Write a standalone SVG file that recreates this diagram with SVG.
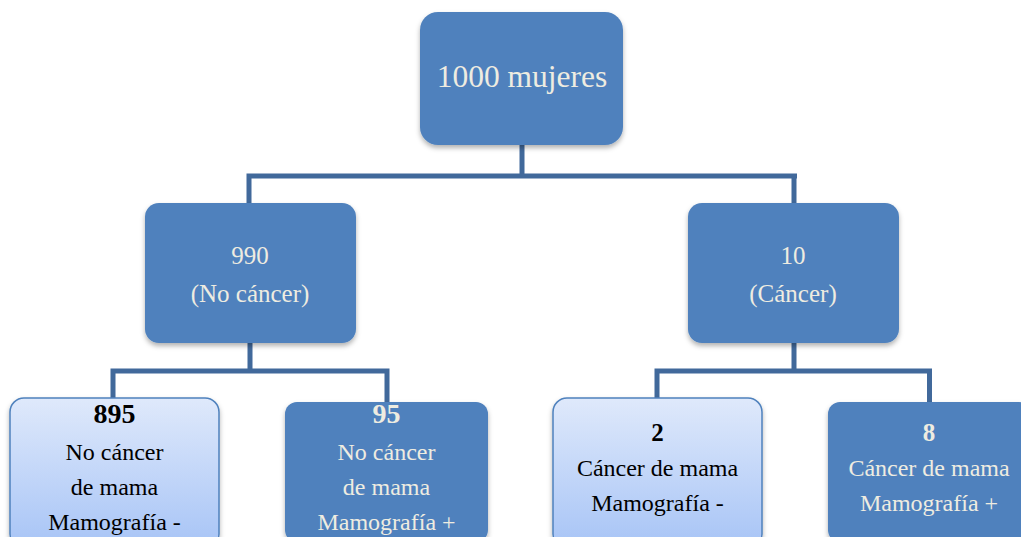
<svg xmlns="http://www.w3.org/2000/svg" width="1021" height="537" viewBox="0 0 1021 537">
<style>
.dark{fill:#4f81bd;filter:url(#sh)}
.light{fill:url(#lg);stroke:#4f81bd;stroke-width:1.5;filter:url(#sh)}
.con{fill:none;stroke:#41699b;stroke-width:5}
text{font-family:"Liberation Serif","Times New Roman",serif;text-anchor:middle}
.w{fill:#eeece1}
.k{fill:#000}
.b{font-weight:bold}
</style>
<defs>
<linearGradient id="lg" x1="0" y1="0" x2="0" y2="1">
<stop offset="0" stop-color="#dfe9fb"/>
<stop offset="1" stop-color="#a7c4f6"/>
</linearGradient>
<filter id="sh" x="-10%" y="-10%" width="120%" height="130%">
<feDropShadow dx="0" dy="3" stdDeviation="2.5" flood-color="#000" flood-opacity="0.3"/>
</filter>
</defs>
<g id="connectors">
<path class="con" d="M522 145V176M249 176H797M249 173.5V203M794 173.5V203"/>
<path class="con" d="M250 343V371M113 371H387M113 368.5V398M387 368.5V402"/>
<path class="con" d="M794 343V371M657 371H932M657 368.5V398M929.5 368.5V402"/>
</g>
<g id="root">
<rect class="dark" x="420" y="12" width="203" height="133" rx="18"/>
<text class="w" x="522" y="87" font-size="31.5">1000 mujeres</text>
</g>
<g id="nocancer">
<rect class="dark" x="145" y="203" width="211" height="140" rx="14"/>
<text class="w" x="250" y="264" font-size="25">990</text>
<text class="w" x="250" y="302" font-size="25">(No cáncer)</text>
</g>
<g id="cancer">
<rect class="dark" x="688" y="203" width="211" height="140" rx="14"/>
<text class="w" x="793" y="264" font-size="25">10</text>
<text class="w" x="793" y="302" font-size="25">(Cáncer)</text>
</g>
<g id="n895">
<rect class="light" x="10" y="398" width="209" height="150" rx="14"/>
<text class="k b" x="114.5" y="423" font-size="28">895</text>
<text class="k" x="114.5" y="460" font-size="24">No cáncer</text>
<text class="k" x="114.5" y="495" font-size="24">de mama</text>
<text class="k" x="114.5" y="530" font-size="24">Mamografía -</text>
</g>
<g id="n95">
<rect class="dark" x="285" y="402" width="203" height="140" rx="12"/>
<text class="w b" x="386.5" y="423" font-size="28">95</text>
<text class="w" x="386.5" y="460" font-size="24">No cáncer</text>
<text class="w" x="386.5" y="495" font-size="24">de mama</text>
<text class="w" x="386.5" y="530" font-size="24">Mamografía +</text>
</g>
<g id="n2">
<rect class="light" x="553" y="398" width="209" height="150" rx="14"/>
<text class="k b" x="657.5" y="441" font-size="25">2</text>
<text class="k" x="657.5" y="476" font-size="24">Cáncer de mama</text>
<text class="k" x="657.5" y="511" font-size="24">Mamografía -</text>
</g>
<g id="n8">
<rect class="dark" x="828" y="402" width="203" height="140" rx="12"/>
<text class="w b" x="929" y="441" font-size="25">8</text>
<text class="w" x="929" y="476" font-size="24">Cáncer de mama</text>
<text class="w" x="929" y="511" font-size="24">Mamografía +</text>
</g>
</svg>
